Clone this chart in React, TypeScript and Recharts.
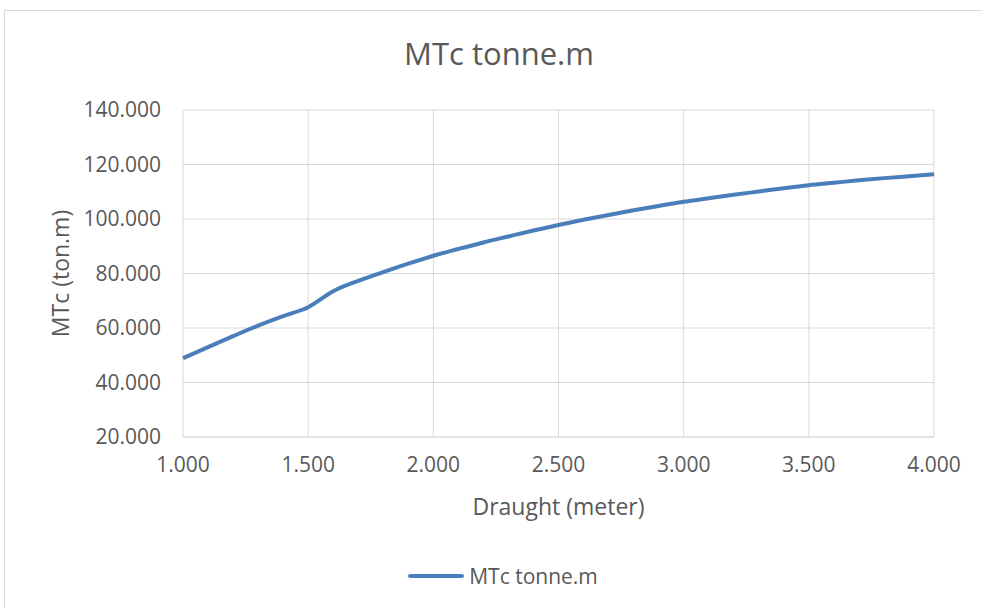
import React from 'react';
import { LineChart, Line, XAxis, YAxis, CartesianGrid, Label } from 'recharts';

// Moment to change trim per cm vs. draught
const draught = [1.0, 1.1, 1.2, 1.3, 1.4, 1.5, 1.6, 1.7, 1.8, 1.9, 2.0, 2.1, 2.2, 2.3, 2.4, 2.5, 2.6, 2.7, 2.8, 2.9, 3.0, 3.1, 3.2, 3.3, 3.4, 3.5, 3.6, 3.7, 3.8, 3.9, 4.0];
const mtc = [48.9, 53.0, 57.0, 60.9, 64.4, 67.6, 73.5, 77.3, 80.5, 83.6, 86.5, 89.0, 91.4, 93.6, 95.8, 97.8, 99.7, 101.5, 103.2, 104.8, 106.3, 107.6, 108.9, 110.1, 111.3, 112.4, 113.3, 114.2, 115.0, 115.7, 116.4];
const xTicks = [1.0, 1.5, 2.0, 2.5, 3.0, 3.5, 4.0];
const yTicks = [20, 40, 60, 80, 100, 120, 140];

const SERIES = 'MTc tonne.m';
const BLUE = '#4A7EBB';
const GREY = '#595959';
const FONT = '"Open Sans", sans-serif';

const data = draught.map((d, i) => ({ draught: d, mtc: mtc[i] }));

function LegendBox() {
  return (
    <div style={{ position: 'absolute', left: 0, top: 562, width: 1006, display: 'flex', justifyContent: 'center', alignItems: 'center', fontFamily: FONT, fontSize: 21, color: GREY }}>
      <svg width={56} height={8} style={{ marginRight: 5 }}>
        <line x1={2} y1={4} x2={54} y2={4} stroke={BLUE} strokeWidth={4} strokeLinecap="round" />
      </svg>
      <span>{SERIES}</span>
    </div>
  );
}

export default function App() {
  return (
    <div style={{ position: 'absolute', left: 0, top: 0, width: 982, height: 608, overflow: 'hidden', background: '#fff' }}>
      <div style={{ position: 'absolute', left: 4, top: 10, width: 1010, height: 640, border: '1px solid #d9d9d9' }} />
      <div style={{ position: 'absolute', left: 0, top: 32, width: 998, textAlign: 'center', fontFamily: FONT, fontSize: 31, color: GREY }}>
        {SERIES}
      </div>
      <LineChart
        width={982}
        height={608}
        data={data}
        margin={{ top: 110, right: 48, bottom: 91, left: 83 }}
        style={{ position: 'absolute', left: 0, top: 0 }}
      >
        <CartesianGrid stroke="#d9d9d9" strokeWidth={1} />
        <XAxis
          dataKey="draught"
          type="number"
          domain={[1, 4]}
          ticks={xTicks}
          tickFormatter={(v: number) => v.toFixed(3)}
          height={80}
          stroke="#d9d9d9"
          tickLine={false}
          tickSize={0}
          tickMargin={20}
          tick={{ fill: GREY, fontSize: 21, fontFamily: FONT }}
        >
          <Label
            content={({ viewBox }: any) => (
              <text x={viewBox.x + viewBox.width / 2} y={viewBox.y + 78} textAnchor="middle" fill={GREY} fontSize={23} fontFamily={FONT}>
                Draught (meter)
              </text>
            )}
          />
        </XAxis>
        <YAxis
          type="number"
          domain={[20, 140]}
          ticks={yTicks}
          tickFormatter={(v: number) => v.toFixed(3)}
          width={100}
          axisLine={false}
          tickLine={false}
          tickSize={0}
          tickMargin={22}
          tick={{ fill: GREY, fontSize: 21, fontFamily: FONT }}
        >
          <Label
            content={({ viewBox }: any) => {
              const cx = viewBox.x + viewBox.width - 122;
              const cy = viewBox.y + viewBox.height / 2;
              return (
                <text x={cx} y={cy} dy={8} transform={`rotate(-90 ${cx} ${cy})`} textAnchor="middle" fill={GREY} fontSize={23} fontFamily={FONT}>
                  MTc (ton.m)
                </text>
              );
            }}
          />
        </YAxis>
        <Line
          type="monotone"
          dataKey="mtc"
          name={SERIES}
          stroke={BLUE}
          strokeWidth={4}
          dot={false}
          isAnimationActive={false}
        />
      </LineChart>
      <LegendBox />
    </div>
  );
}
